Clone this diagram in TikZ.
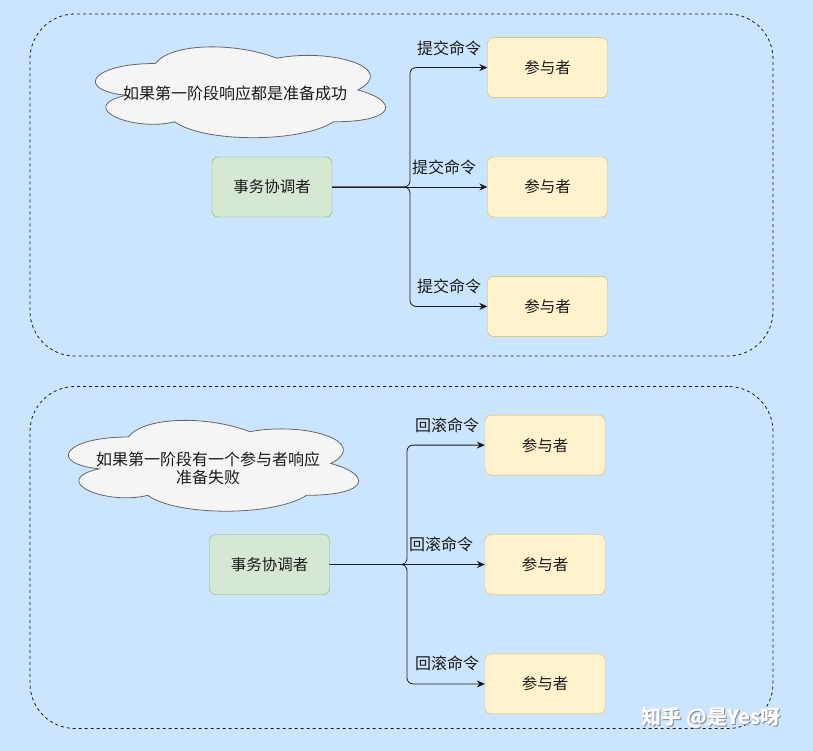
\documentclass[tikz,border=0pt]{standalone}
\usepackage{fontspec}
\setmainfont{Noto Sans CJK SC}
\usepackage{tikz}
\usetikzlibrary{arrows.meta, positioning}
\definecolor{txbg}{HTML}{CCE5FF}
\definecolor{txgreen}{HTML}{D5E8D4}
\definecolor{txgreenline}{HTML}{82B366}
\definecolor{txyellow}{HTML}{FFF2CC}
\definecolor{txyellowline}{HTML}{D6B656}
\definecolor{txcloud}{HTML}{F5F5F5}
\definecolor{txcloudline}{HTML}{666666}
\definecolor{txink}{HTML}{1A1A1A}
% cloud outline around a point, 324 x 106 box
\newcommand{\notecloud}[1]{%
  \draw[draw=txcloudline, fill=txcloud, line width=0.8pt, shift={(#1)}, x=324pt, y=-106pt]
    (-0.25,-0.25) .. controls (-0.45,-0.25) and (-0.5,0) .. (-0.34,0.05)
    .. controls (-0.5,0.16) and (-0.32,0.4) .. (-0.19,0.3)
    .. controls (-0.1,0.5) and (0.2,0.5) .. (0.3,0.3)
    .. controls (0.5,0.3) and (0.5,0.1) .. (0.375,0)
    .. controls (0.5,-0.2) and (0.3,-0.4) .. (0.125,-0.3)
    .. controls (0,-0.45) and (-0.2,-0.45) .. (-0.25,-0.25) -- cycle;}

\begin{document}
\begin{tikzpicture}[x=1pt, y=-1pt,
        coord/.style={draw=txgreenline, fill=txgreen, rounded corners=6pt, minimum width=120pt, minimum height=60pt, font=\fontsize{15.5}{18}\selectfont, text=txink},
        part/.style={draw=txyellowline, fill=txyellow, rounded corners=6pt, minimum width=120pt, minimum height=60pt, font=\fontsize{15.5}{18}\selectfont, text=txink},
        note/.style={inner sep=0pt, align=center, font=\fontsize{16}{18}\selectfont, text=txink},
        cmd/.style={inner sep=1pt, font=\fontsize{16}{18}\selectfont, text=txink},
        frame/.style={draw=txink, dashed, rounded corners=45pt, line width=0.8pt, minimum width=743pt, minimum height=342pt},
        wmark/.style={font=\fontsize{20}{24}\selectfont\bfseries, inner sep=0pt},
        arrow/.style={-{Stealth[length=8pt, width=7pt]}, line width=0.8pt, txink, rounded corners=6pt}
    ]
        \fill[txbg] (0,0) rectangle (813,751);

        % commit round
        \node (topframe) [frame] at (401.5,185) {};
        \coordinate (topcloud) at (236.3,90);
        \notecloud{topcloud}
        \node (topnote) [note] at (235,93) {如果第一阶段响应都是准备成功};
        \node (topcoord) [coord] at (272,187) {事务协调者};
        \node (toppart2) [part] at (547.5,187) {参与者};
        \node (toppart1) [part, above=59pt of toppart2] {参与者};
        \node (toppart3) [part, below=59pt of toppart2] {参与者};
        \coordinate (topfork) at (410,187);

        \draw [arrow] (topcoord.east) -- (topfork) |- (toppart1.west);
        \draw [arrow] (topcoord.east) -- (toppart2.west);
        \draw [arrow] (topcoord.east) -- (topfork) |- (toppart3.west);
        \node (topcmd1) [cmd] at (449,48) {提交命令};
        \node (topcmd2) [cmd] at (444,167) {提交命令};
        \node (topcmd3) [cmd] at (449,286) {提交命令};

        % rollback round
        \node (botframe) [frame] at (401.5,557.5) {};
        \coordinate (botcloud) at (209.3,463.5);
        \notecloud{botcloud}
        \node (botnote) [note] at (208,468) {如果第一阶段有一个参与者响应\\准备失败};
        \node (botcoord) [coord] at (269.5,564.5) {事务协调者};
        \node (botpart2) [part] at (545,564.5) {参与者};
        \node (botpart1) [part, above=59pt of botpart2] {参与者};
        \node (botpart3) [part, below=59pt of botpart2] {参与者};
        \coordinate (botfork) at (407,564.5);

        \draw [arrow] (botcoord.east) -- (botfork) |- (botpart1.west);
        \draw [arrow] (botcoord.east) -- (botpart2.west);
        \draw [arrow] (botcoord.east) -- (botfork) |- (botpart3.west);
        \node (botcmd1) [cmd] at (447,425) {回滚命令};
        \node (botcmd2) [cmd] at (441,544) {回滚命令};
        \node (botcmd3) [cmd] at (447,663) {回滚命令};

        \node (markshade) [wmark, text=black!45] at (712,719) {知乎 @是Yes呀};
        \node (markfront) [wmark, text=white] at (711,718) {知乎 @是Yes呀};
    \end{tikzpicture}
\end{document}
